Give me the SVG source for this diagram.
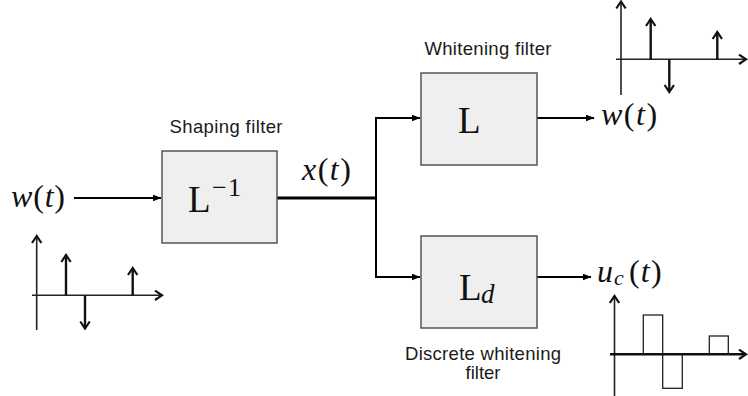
<svg xmlns="http://www.w3.org/2000/svg" width="748" height="396" viewBox="0 0 748 396">
<defs>
<marker id="arr" markerUnits="userSpaceOnUse" markerWidth="9" markerHeight="7" refX="8.5" refY="3.5" orient="auto">
<path d="M0,0 L9,3.5 L0,7 z" fill="#000"/>
</marker>
</defs>
<style>
.box{fill:#efefef;stroke:#555;stroke-width:1.5}
.lbl{font-family:"Liberation Sans",Arial,sans-serif;font-size:18.5px;fill:#1a1a1a;text-anchor:middle}
.m{font-family:"Liberation Serif","Times New Roman",serif;fill:#111}
.i{font-style:italic}
.wire{fill:none;stroke:#000;stroke-width:2}
.ax{fill:none;stroke:#222;stroke-width:1.6}
.imp{fill:none;stroke:#111;stroke-width:2.4}
.chev{fill:none;stroke:#111;stroke-width:2.2;stroke-linejoin:miter}
.bar{fill:none;stroke:#222;stroke-width:1.3}
</style>

<g id="connectors">
<line class="wire" x1="74" y1="198" x2="161" y2="198" marker-end="url(#arr)"/>
<line class="wire" x1="277" y1="198" x2="376" y2="198" style="stroke-width:3"/>
<path class="wire" d="M376,277 V118 H420" marker-end="url(#arr)"/>
<path class="wire" d="M376,198 V277 H420" marker-end="url(#arr)"/>
<line class="wire" x1="537" y1="118" x2="594" y2="118" marker-end="url(#arr)"/>
<line class="wire" x1="537" y1="277" x2="591" y2="277" marker-end="url(#arr)"/>
</g>

<g id="input-label">
<text class="m" x="11" y="207" font-size="32" letter-spacing="0.8"><tspan class="i">w</tspan>(<tspan class="i">t</tspan>)</text>
</g>

<g id="shaping-filter">
<text class="lbl" x="226" y="133" textLength="113">Shaping filter</text>
<rect class="box" x="162" y="151" width="115" height="92"/>
<text class="m" x="188" y="212" font-size="37">L</text>
<text class="m" y="196" font-size="26"><tspan x="212">−</tspan><tspan x="228">1</tspan></text>
</g>

<g id="x-label">
<text class="m" x="302" y="180" font-size="32" letter-spacing="1.5"><tspan class="i">x</tspan>(<tspan class="i">t</tspan>)</text>
</g>

<g id="whitening-filter">
<text class="lbl" x="488" y="55" textLength="127">Whitening filter</text>
<rect class="box" x="421" y="73" width="116" height="92"/>
<text class="m" x="458" y="133" font-size="37">L</text>
</g>

<g id="output-w">
<text class="m" x="601" y="125" font-size="32" letter-spacing="1.5"><tspan class="i">w</tspan>(<tspan class="i">t</tspan>)</text>
</g>

<g id="discrete-whitening-filter">
<rect class="box" x="421" y="236" width="116" height="92"/>
<text class="m" x="459" y="300" font-size="37">L</text>
<text class="m i" x="481" y="303" font-size="27">d</text>
<text class="lbl" x="483" y="360" textLength="156">Discrete whitening</text>
<text class="lbl" x="483" y="379">filter</text>
</g>

<g id="output-uc">
<text class="m" y="282" font-size="32"><tspan class="i" x="597">u</tspan><tspan class="i" x="614" y="285" font-size="22">c</tspan><tspan x="629" y="282" letter-spacing="1.2">(<tspan class="i">t</tspan>)</tspan></text>
</g>

<g id="plot-input">
<line class="ax" x1="36.7" y1="330" x2="36.7" y2="236"/>
<path class="chev" d="M32,243 L36.7,236 L41.4,243"/>
<line class="ax" x1="32" y1="295.3" x2="162" y2="295.3"/>
<path class="chev" d="M155,290.6 L162,295.3 L155,300"/>
<line class="imp" x1="66" y1="295.3" x2="66" y2="255"/>
<path class="chev" d="M61.3,262 L66,255 L70.7,262"/>
<line class="imp" x1="85" y1="295.3" x2="85" y2="328.5"/>
<path class="chev" d="M80.3,321.5 L85,328.5 L89.7,321.5"/>
<line class="imp" x1="132.7" y1="295.3" x2="132.7" y2="268"/>
<path class="chev" d="M128,275 L132.7,268 L137.4,275"/>
</g>

<g id="plot-w">
<line class="ax" x1="621" y1="95" x2="621" y2="1.5"/>
<path class="chev" d="M616.3,8.5 L621,1.5 L625.7,8.5"/>
<line class="ax" x1="616" y1="59.3" x2="746" y2="59.3"/>
<path class="chev" d="M739,54.6 L746,59.3 L739,64"/>
<line class="imp" x1="650.7" y1="59.3" x2="650.7" y2="19"/>
<path class="chev" d="M646,26 L650.7,19 L655.4,26"/>
<line class="imp" x1="669.3" y1="59.3" x2="669.3" y2="92"/>
<path class="chev" d="M664.6,85 L669.3,92 L674,85"/>
<line class="imp" x1="717.3" y1="59.3" x2="717.3" y2="32"/>
<path class="chev" d="M712.6,39 L717.3,32 L722,39"/>
</g>

<g id="plot-uc">
<line class="ax" x1="614.5" y1="396" x2="614.5" y2="296"/>
<path class="chev" d="M609.8,303 L614.5,296 L619.2,303"/>
<rect class="bar" x="643.3" y="315" width="19.4" height="39"/>
<rect class="bar" x="662.7" y="354" width="19.6" height="34.3"/>
<rect class="bar" x="709.3" y="336" width="19" height="18"/>
<line class="imp" x1="610" y1="354.3" x2="746" y2="354.3"/>
<path class="chev" d="M739,349.6 L746,354.3 L739,359"/>
</g>
</svg>
